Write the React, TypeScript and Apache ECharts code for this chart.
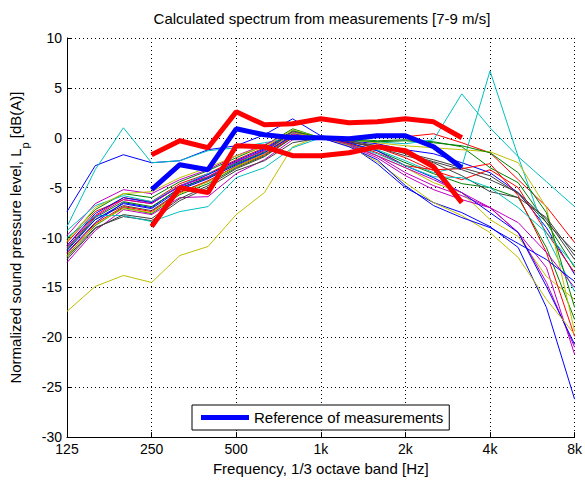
import React, { useEffect, useRef } from "react";
import * as echarts from "echarts";

// 1/3 octave band centre frequencies (x positions are band indices)
const BANDS = ["125", "160", "200", "250", "315", "400", "500", "630", "800", "1k", "1.25k", "1.6k", "2k", "2.5k", "3.15k", "4k", "5k", "6.3k", "8k"];

const TITLE = "Calculated spectrum from measurements [7-9 m/s]";
const X_NAME = "Frequency, 1/3 octave band [Hz]";
const LEGEND_NAME = "Reference of measurements";

// Thick curves run from 250 Hz (band index 3) to 3.15 kHz
const THICK_START = 3;
const referenceCurve = [-5.2, -2.7, -3.2, 0.9, 0.3, 0.0, 0.0, -0.1, 0.2, 0.2, -0.9, -3.0];
const upperCurve = [-1.7, -0.3, -1.0, 2.6, 1.3, 1.4, 1.9, 1.5, 1.6, 1.9, 1.6, 0.0];
const lowerCurve = [-8.9, -5.0, -5.5, -0.8, -0.9, -1.8, -1.8, -1.5, -0.9, -1.3, -2.9, -6.5];

// Individual measurements (125 Hz .. 8 kHz)
const m01 = [-7.4, -2.8, -1.7, -2.5, -2.3, -1.2, -0.8, 0.3, 1.9, 0.2, -0.3, -0.6, -1.2, -1.6, -2.5, -3.5, -5.5, -9.0, -13.7];
const m02 = [-10.2, -7.2, -5.6, -6.0, -4.4, -3.3, -2.0, -0.8, 0.9, 0.0, -0.1, -0.3, -0.2, -0.4, -0.9, -3.0, -4.5, -8.5, -13.0];
const m03 = [-10.8, -7.8, -6.0, -6.4, -4.6, -3.6, -2.2, -1.0, 0.6, 0.0, -0.1, 0.2, 0.1, 0.4, -0.5, -1.5, -4.2, -6.9, -10.5];
const m04 = [-8.9, -3.2, 1.0, -2.5, -2.3, -1.3, -1.0, -0.5, 0.0, 0.0, -0.3, -0.4, -0.6, -0.2, 4.4, 1.0, -1.9, -4.4, -6.9];
const m05 = [-9.8, -6.6, -5.2, -5.6, -4.2, -3.2, -1.8, -0.7, 0.6, 0.0, -0.6, -1.8, -3.5, -4.8, -5.8, -7.0, -9.5, -13.0, -21.7];
const m06 = [-17.4, -14.9, -13.8, -14.5, -11.8, -10.9, -7.7, -5.5, -0.9, 0.2, -0.8, -1.8, -3.0, -4.5, -5.5, -8.2, -9.9, -13.9, -16.2];
const m07 = [-11.0, -8.2, -6.8, -7.3, -5.4, -4.4, -2.8, -1.6, 0.2, 0.0, -0.5, -0.8, -1.5, -2.2, -3.0, -3.8, -5.6, -8.5, -11.4];
const m08 = [-11.5, -8.5, -6.5, -7.0, -5.0, -4.0, -2.5, -1.2, 0.4, 0.0, -0.7, -2.6, -5.0, -6.5, -7.5, -8.9, -11.0, -17.0, -26.2];
const m09 = [-11.8, -8.8, -7.0, -7.6, -5.7, -4.6, -3.0, -1.8, 0.0, 0.0, -0.6, -1.3, -2.5, -3.6, -4.6, -5.0, -6.0, -11.0, -18.2];
const m10 = [-10.5, -7.4, -6.2, -6.6, -4.8, -3.9, -2.4, -1.3, 0.3, 0.0, -0.4, -1.0, -2.0, -3.3, -4.2, -3.2, -5.0, -9.5, -13.5];
const m11 = [-9.3, -6.8, -5.8, -6.4, -4.8, -3.6, -2.6, -1.5, 0.2, 0.0, -0.6, -1.2, -2.3, -3.5, -2.9, 6.7, -1.9, -9.9, -15.4];
const m12 = [-12.5, -9.3, -7.2, -7.7, -6.0, -5.9, -3.6, -2.2, -0.2, 0.0, -0.8, -2.0, -3.8, -5.2, -6.2, -7.0, -9.5, -14.5, -21.0];
const m13 = [-10.4, -7.0, -5.6, -5.4, -4.0, -3.0, -1.8, -0.9, 0.8, 0.0, -0.2, -0.5, -0.8, -1.0, -1.2, -1.4, -2.5, -7.0, -19.4];
const m14 = [-12.0, -9.0, -7.9, -8.3, -6.3, -5.0, -3.3, -2.3, -0.5, 0.0, -0.4, -1.0, -1.8, -2.5, -3.8, -5.4, -6.0, -8.0, -11.8];
const m15 = [-10.8, -7.6, -6.0, -6.5, -4.9, -3.7, -2.3, -1.1, 0.5, 0.0, -0.5, -1.3, -2.8, -4.0, -5.5, -7.5, -9.5, -14.9, -20.7];
const m16 = [-11.2, -8.0, -6.4, -6.9, -5.1, -4.0, -2.6, -1.4, 0.7, 0.0, -0.2, -0.4, -0.3, -0.5, -0.8, -1.5, -3.5, -7.5, -17.0];
const m17 = [-11.6, -8.6, -6.9, -7.4, -5.5, -4.3, -2.9, -1.7, 0.1, 0.0, -0.6, -1.5, -2.8, -3.2, -3.1, -2.6, -5.8, -11.5, -19.9];
const m18 = [-10.0, -7.8, -7.8, -8.4, -7.4, -6.9, -4.0, -3.0, -1.0, 0.0, -0.7, -1.6, -2.8, -3.9, -4.0, -5.0, -7.0, -9.5, -12.8];
const m19 = [-11.0, -7.9, -6.2, -6.6, -4.8, -3.9, -2.4, -1.3, 0.3, 0.0, -0.7, -1.8, -3.0, -4.2, -5.5, -7.0, -8.5, -11.5, -15.0];
const m20 = [-11.9, -8.7, -7.1, -7.5, -5.6, -4.4, -2.9, -1.6, 0.5, 0.0, -0.8, -2.4, -4.5, -6.5, -7.8, -9.5, -12.0, -16.2, -19.7];
const m21 = [-12.2, -9.1, -7.7, -8.1, -6.1, -4.8, -3.1, -1.9, 0.0, 0.0, -0.3, -0.8, -1.6, -2.4, -3.2, -4.2, -5.5, -8.2, -12.2];
const m22 = [-11.3, -8.2, -6.6, -7.1, -5.2, -4.1, -2.7, -1.5, 0.2, 0.0, -0.9, -2.2, -4.8, -6.8, -8.0, -9.0, -10.6, -12.2, -14.4];

const MEASUREMENTS = [m01, m02, m03, m04, m05, m06, m07, m08, m09, m10, m11, m12, m13, m14, m15, m16, m17, m18, m19, m20, m21, m22];

// MATLAB (classic) colour order: b g r c m y k
const COLORS = ["#0000ff", "#008000", "#ff0000", "#00bfbf", "#bf00bf", "#bfbf00", "#404040"];

const FONT = "'Liberation Sans', Arial, Helvetica, sans-serif";

export default function App() {
  const ref = useRef<HTMLDivElement>(null);

  useEffect(() => {
    if (!ref.current) return;
    const chart = echarts.init(ref.current, undefined, { renderer: "svg", width: 585, height: 481 });

    const thinSeries = MEASUREMENTS.map((vals, k) => ({
      name: "Measurement " + (k + 1),
      type: "line",
      data: vals.map((v, i) => [i, v]),
      symbol: "none",
      showSymbol: false,
      silent: true,
      z: 2,
      lineStyle: { width: 1, color: COLORS[k % COLORS.length] },
      itemStyle: { color: COLORS[k % COLORS.length] },
      emphasis: { disabled: true },
    }));

    const thick = (name: string, vals: number[], color: string) => ({
      name,
      type: "line",
      data: vals.map((v, i) => [i + THICK_START, v]),
      symbol: "none",
      showSymbol: false,
      silent: true,
      z: 3,
      lineStyle: { width: 5, color },
      itemStyle: { color },
      emphasis: { disabled: true },
    });

    chart.setOption({
      animation: false,
      backgroundColor: "#ffffff",
      textStyle: { fontFamily: FONT },
      title: {
        text: TITLE,
        left: 322,
        textAlign: "center",
        top: 11,
        padding: 0,
        textStyle: { fontSize: 15, fontWeight: "normal", color: "#000", fontFamily: FONT },
      },
      legend: {
        data: [{ name: LEGEND_NAME, icon: "rect" }],
        left: 192,
        top: 405,
        itemWidth: 48,
        itemHeight: 5,
        padding: [5, 6, 5, 9],
        borderColor: "#000",
        borderWidth: 1,
        borderRadius: 0,
        backgroundColor: "#ffffff",
        selectedMode: false,
        textStyle: { fontSize: 15, color: "#000", fontFamily: FONT },
      },
      grid: { left: 67, right: 8, top: 38, bottom: 43, containLabel: false },
      xAxis: {
        type: "value",
        min: 0,
        max: BANDS.length - 1,
        interval: 3,
        name: X_NAME,
        nameLocation: "middle",
        nameGap: 23,
        nameTextStyle: { fontSize: 15, color: "#000", fontFamily: FONT },
        axisLine: { show: true, onZero: false, lineStyle: { color: "#000", width: 1 } },
        axisTick: { show: true, inside: true, length: 5, lineStyle: { color: "#000" } },
        axisLabel: {
          color: "#000",
          fontSize: 14,
          fontFamily: FONT,
          margin: 5,
          formatter: (v: number) => BANDS[Math.round(v)] ?? "",
        },
        splitLine: { show: true, lineStyle: { color: "#000", width: 1, type: [1, 3] } },
      },
      yAxis: {
        type: "value",
        min: -30,
        max: 10,
        interval: 5,
        name: "{n|Normalized sound pressure level, L}{sub|p}{n| [dB(A)]}",
        nameLocation: "middle",
        nameGap: 37,
        nameTextStyle: {
          fontSize: 15,
          color: "#000",
          fontFamily: FONT,
          rich: {
            n: { fontSize: 15, lineHeight: 17, color: "#000", fontFamily: FONT, verticalAlign: "top" },
            sub: { fontSize: 11, lineHeight: 22, color: "#000", fontFamily: FONT, verticalAlign: "bottom" },
          },
        },
        axisLine: { show: true, onZero: false, lineStyle: { color: "#000", width: 1 } },
        axisTick: { show: true, inside: true, length: 5, lineStyle: { color: "#000" } },
        axisLabel: { color: "#000", fontSize: 14, fontFamily: FONT, margin: 5 },
        splitLine: { show: true, lineStyle: { color: "#000", width: 1, type: [1, 3] } },
      },
      series: [
        ...thinSeries,
        thick("Upper bound", upperCurve, "#ff0000"),
        thick("Lower bound", lowerCurve, "#ff0000"),
        thick(LEGEND_NAME, referenceCurve, "#0000ff"),
      ],
    });

    return () => {
      chart.dispose();
    };
  }, []);

  return (
    <div
      ref={ref}
      style={{ position: "fixed", left: 0, top: 0, width: 585, height: 481, background: "#fff" }}
    />
  );
}
